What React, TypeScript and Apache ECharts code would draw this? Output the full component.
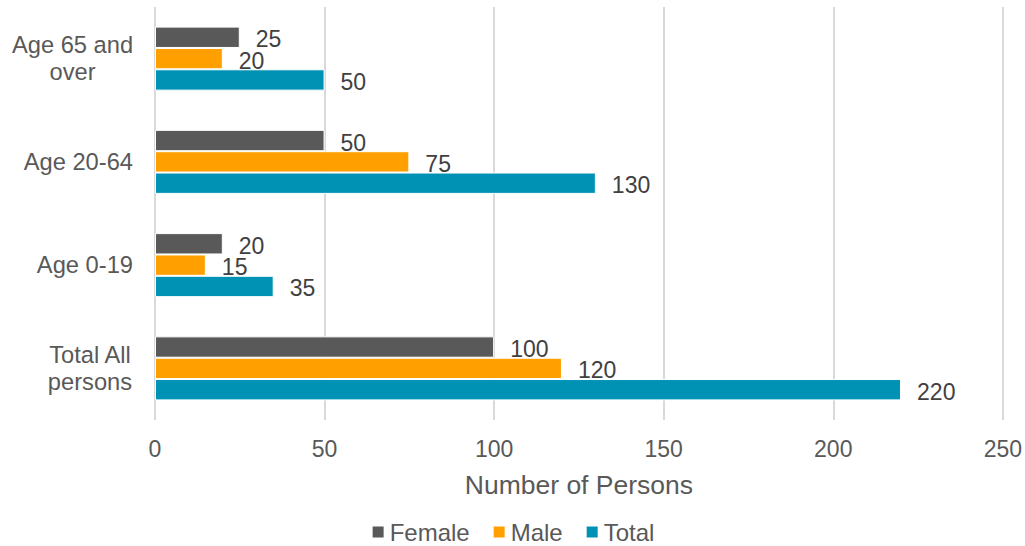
import React, { useEffect, useRef } from "react";
import * as echarts from "echarts";

const categories = ["Total All\npersons", "Age 0-19", "Age 20-64", "Age 65 and\nover"];
const femaleValues = [100, 20, 50, 25];
const maleValues = [120, 15, 75, 20];
const totalValues = [220, 35, 130, 50];
const seriesNames = ["Female", "Male", "Total"];
const xTicks = { min: 0, max: 250, interval: 50 };

const colors = ["#595959", "#FFA000", "#0092B4"];

export default function App() {
  const ref = useRef<HTMLDivElement>(null);
  useEffect(() => {
    if (!ref.current) return;
    const chart = echarts.init(ref.current, undefined, { renderer: "svg" });
    const font = "'Liberation Sans', Arial, sans-serif";
    const labelCfg = {
      show: true,
      position: "right",
      distance: 16,
      offset: [0, 2],
      fontSize: 23,
      color: "#404040",
      fontFamily: font,
    };
    const datasets = [femaleValues, maleValues, totalValues];
    chart.setOption({
      animation: false,
      color: colors,
      textStyle: { fontFamily: font },
      grid: { left: 155, right: 21, top: 7, bottom: 126, containLabel: false },
      legend: {
        data: seriesNames,
        top: 515,
        left: "center",
        icon: "rect",
        itemWidth: 13,
        itemHeight: 13,
        itemGap: 22,
        textStyle: { fontSize: 24, color: "#595959", fontFamily: font },
      },
      xAxis: {
        type: "value",
        min: xTicks.min,
        max: xTicks.max,
        interval: xTicks.interval,
        axisLine: { show: false },
        axisTick: { show: false },
        splitLine: { show: true, lineStyle: { color: "#D9D9D9", width: 2 } },
        axisLabel: { fontSize: 23, color: "#595959", margin: 17, fontFamily: font },
        name: "Number of Persons",
        nameLocation: "middle",
        nameGap: 51,
        nameTextStyle: { fontSize: 26.5, color: "#595959", fontFamily: font },
      },
      yAxis: {
        type: "category",
        data: categories,
        axisLine: { show: false },
        axisTick: { show: false },
        axisLabel: {
          fontSize: 23.7,
          color: "#595959",
          margin: 22,
          lineHeight: 27,
          fontFamily: font,
          formatter: (v: string) => {
            if (v.indexOf("\n") >= 0) {
              const lines = v.split("\n");
              const style = lines[0].startsWith("Age") ? "w" : "n";
              return lines.map((l) => `{${style}|${l}}`).join("\n");
            }
            return v;
          },
          rich: {
            w: { width: 121, align: "center", fontSize: 23.7, lineHeight: 27, color: "#595959", fontFamily: font },
            n: { width: 86, align: "center", fontSize: 23.7, lineHeight: 27, color: "#595959", fontFamily: font },
          },
        },
      },
      series: seriesNames.map((name, i) => ({
        name,
        type: "bar",
        data: datasets[i],
        barGap: "0%",
        barCategoryGap: "38%",
        itemStyle: { color: colors[i], borderColor: "#ffffff", borderWidth: 1 },
        label: labelCfg,
      })),
    });
    return () => chart.dispose();
  }, []);
  return (
    <div
      ref={ref}
      style={{ position: "fixed", left: 0, top: 0, width: 1025, height: 546, background: "#fff" }}
    />
  );
}
